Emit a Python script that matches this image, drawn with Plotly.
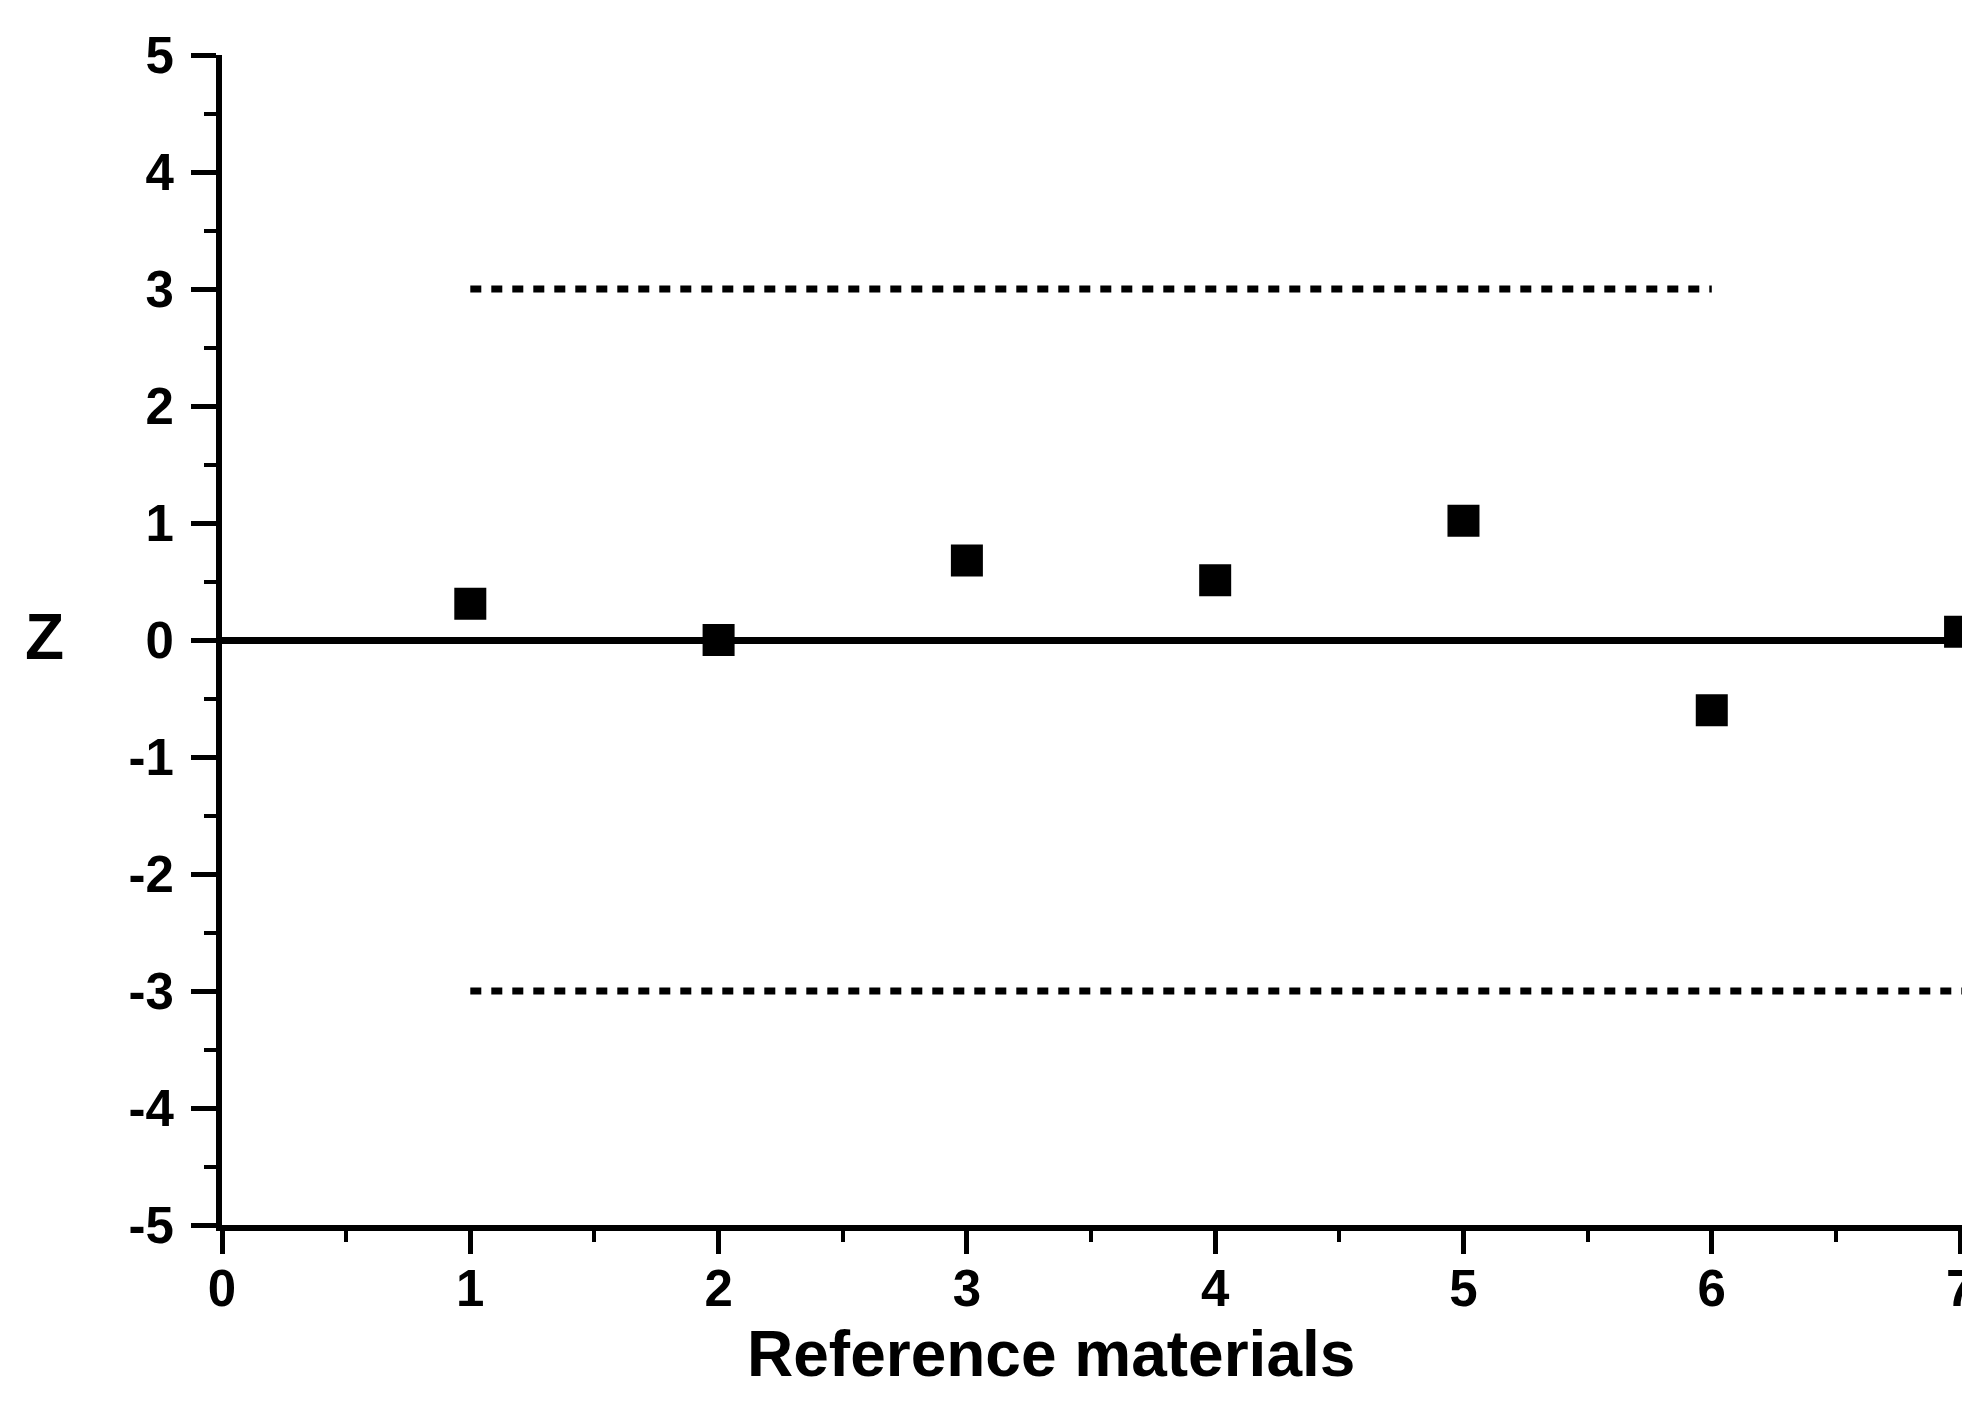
import plotly.graph_objects as go

# Data
materials = [1, 2, 3, 4, 5, 6, 7]
z_scores = [0.31, 0.0, 0.68, 0.51, 1.02, -0.60, 0.07]
upper_limit_x = [1, 6]
upper_limit_y = [3, 3]
lower_limit_x = [1, 7.04]
lower_limit_y = [-3, -3]
x_ticks = [0, 1, 2, 3, 4, 5, 6, 7]
y_ticks = [5, 4, 3, 2, 1, 0, -1, -2, -3, -4, -5]

# page body has an 8px default margin; plot area target (page px): 222..1970 x 55..1225
BODY = 8
PL, PR, PT, PB = 222, 1970, 55, 1225
W, H = 1970 - BODY, 1403 - BODY
L, T = PL - BODY, PT - BODY
R = (W + BODY) - PR
B = (H + BODY) - PB
pw = PR - PL
ph = PB - PT

fig = go.Figure()

fig.add_trace(go.Scatter(
    x=upper_limit_x, y=upper_limit_y, mode="lines",
    line=dict(color="black", width=7, dash="11px,10px"),
    showlegend=False, hoverinfo="skip"))
fig.add_trace(go.Scatter(
    x=lower_limit_x, y=lower_limit_y, mode="lines",
    line=dict(color="black", width=7, dash="11px,10px"),
    showlegend=False, hoverinfo="skip"))
fig.add_trace(go.Scatter(
    x=materials, y=z_scores, mode="markers",
    marker=dict(symbol="square", size=32, color="black", line=dict(width=0)),
    showlegend=False))

tick_font = dict(family="Liberation Sans, Arial, sans-serif", size=51, color="black", weight="bold")

fig.update_xaxes(
    range=[0, 7.04], tickmode="array", tickvals=x_ticks, ticktext=[str(v) for v in x_ticks],
    showline=True, linewidth=6, linecolor="black",
    ticks="outside", ticklen=23, tickwidth=5, tickcolor="black",
    minor=dict(dtick=0.5, ticks="outside", ticklen=11, tickwidth=4, tickcolor="black"),
    showgrid=False, zeroline=False, tickfont=tick_font, ticklabelstandoff=-9,
    automargin=False, ticklabeloverflow="allow",
)
fig.update_yaxes(
    range=[-5, 5], tickmode="array", tickvals=y_ticks, ticktext=[str(v) for v in y_ticks],
    showline=True, linewidth=6, linecolor="black",
    ticks="outside", ticklen=25, tickwidth=5, tickcolor="black",
    minor=dict(dtick=0.5, ticks="outside", ticklen=12, tickwidth=4, tickcolor="black"),
    showgrid=False, zeroline=True, zerolinewidth=7, zerolinecolor="black",
    tickfont=tick_font, ticklabelstandoff=7,
    automargin=False, ticklabeloverflow="allow",
)

fig.add_annotation(
    text="Z", xref="paper", yref="paper",
    x=(44 - PL) / pw, y=(PB - 637) / ph, xanchor="center", yanchor="middle",
    showarrow=False,
    font=dict(family="Liberation Sans, Arial, sans-serif", size=64, color="black", weight="bold"))
fig.add_annotation(
    text="Reference materials", xref="paper", yref="paper",
    x=(1051 - PL) / pw, y=(PB - 1354) / ph, xanchor="center", yanchor="middle",
    showarrow=False,
    font=dict(family="Liberation Sans, Arial, sans-serif", size=64, color="black", weight="bold"))

fig.update_layout(
    width=W, height=H,
    margin=dict(l=L, r=R, t=T, b=B, pad=0),
    paper_bgcolor="white", plot_bgcolor="white",
)

fig.write_html("out.html")
